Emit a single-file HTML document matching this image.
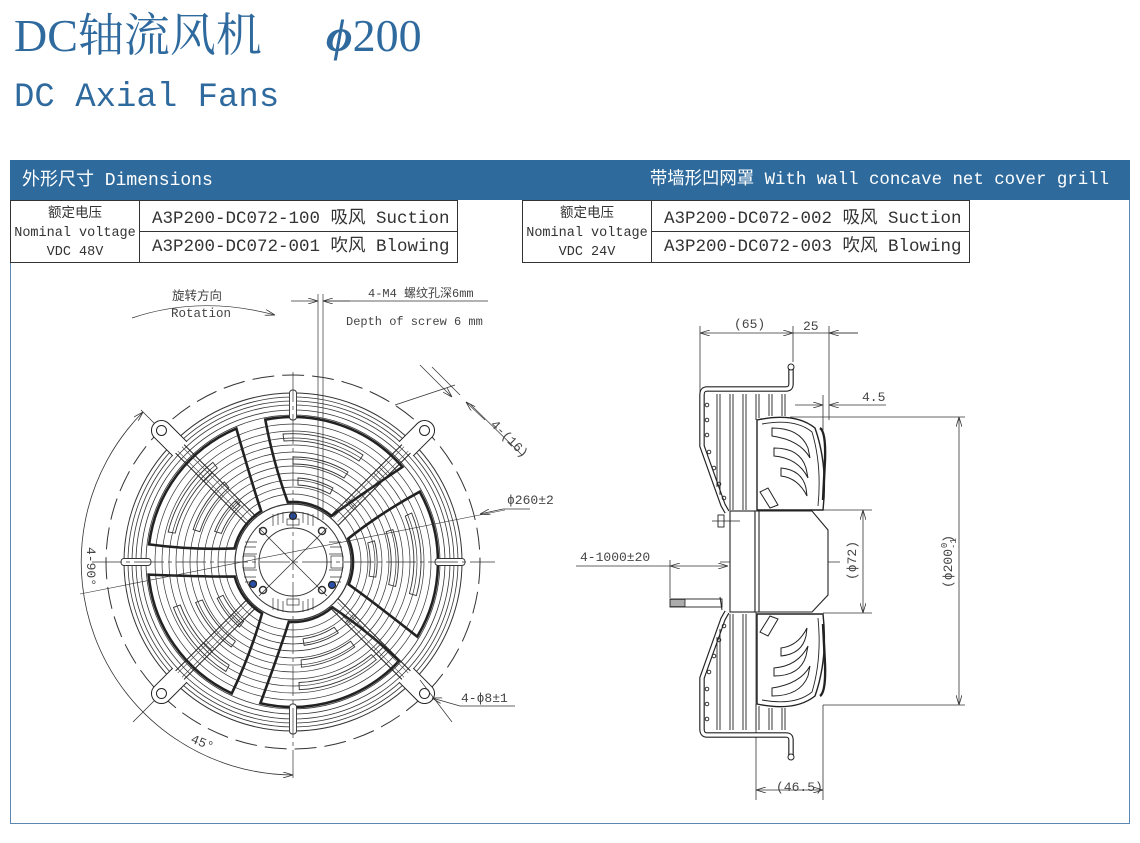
<!DOCTYPE html>
<html><head><meta charset="utf-8">
<style>
html,body{margin:0;padding:0;background:#fff;}
body{width:1140px;height:843px;position:relative;overflow:hidden;font-family:"Liberation Mono","Noto Sans CJK SC",monospace;}
.t1{position:absolute;left:14px;top:8px;font-family:"Liberation Serif","Noto Serif CJK SC",serif;font-size:46px;color:#2f6a9e;white-space:nowrap;line-height:56px;}
.t1b{position:absolute;left:326px;top:8px;font-family:"Liberation Serif",serif;font-size:46px;color:#2f6a9e;white-space:nowrap;line-height:56px;}
.t2{position:absolute;left:14px;top:76px;font-family:"Liberation Mono","Noto Sans CJK SC",monospace;font-size:34px;color:#2f6a9e;white-space:nowrap;line-height:44px;}
.panel{position:absolute;left:10px;top:160px;width:1120px;height:664px;border:1px solid #5b87b3;box-sizing:border-box;}
.hdr{position:absolute;left:10px;top:160px;width:1120px;height:40px;background:#2e6a9c;color:#fff;font-size:18px;line-height:42px;white-space:nowrap;}
.tbl{position:absolute;top:200px;height:63px;border:1px solid #333;box-sizing:border-box;background:#fff;}
.tbl .l{position:absolute;left:0;top:0;width:129px;height:61px;border-right:1px solid #333;text-align:center;font-size:13.5px;line-height:19px;color:#333;padding-top:4px;box-sizing:border-box;}
.tbl .r{position:absolute;left:129px;right:0;height:30px;font-size:17.5px;line-height:36px;padding-left:12px;color:#333;white-space:nowrap;}
</style></head><body>
<div class="t1">DC轴流风机</div>
<div class="t1b"><i style="font-weight:bold">ϕ</i>200</div>
<div class="t2">DC Axial Fans</div>
<div class="panel"></div>
<div class="hdr"><span style="position:absolute;left:12px;">外形尺寸 Dimensions</span><span style="position:absolute;right:21px;font-size:17.4px;">带墙形凹网罩 With wall concave net cover grill</span></div>
<div class="tbl" style="left:10px;width:448px;"><div class="l">额定电压<br>Nominal voltage<br>VDC 48V</div><div class="r" style="top:0;border-bottom:1px solid #333;">A3P200-DC072-100 吸风 Suction</div><div class="r" style="top:31px;line-height:30px;">A3P200-DC072-001 吹风 Blowing</div></div>
<div class="tbl" style="left:522px;width:448px;"><div class="l">额定电压<br>Nominal voltage<br>VDC 24V</div><div class="r" style="top:0;border-bottom:1px solid #333;">A3P200-DC072-002 吸风 Suction</div><div class="r" style="top:31px;line-height:30px;">A3P200-DC072-003 吹风 Blowing</div></div>

<svg width="1140" height="843" style="position:absolute;left:0;top:0" xmlns="http://www.w3.org/2000/svg">
<defs>
<marker id="ar" markerWidth="10" markerHeight="6" refX="10" refY="3" orient="auto-start-reverse" markerUnits="userSpaceOnUse"><path d="M0,0 L10,3 L0,6" fill="none" stroke="#333" stroke-width="0.8"/></marker>
<g id="blade">
<path d="M-27.7,-142.3 A145,145 0 0 1 109.4,-95.1 Q60,-62 38.6,-46 A60,60 0 0 0 -5.2,-59.8 Q-20,-100 -27.7,-142.3 Z" fill="none" stroke="#222" stroke-width="2.6"/>
<path d="M-10,-128 A128,128 0 0 1 70,-107 L66,-101 A121,121 0 0 0 -9,-121 Z" fill="none" stroke="#333" stroke-width="0.9"/>
<path d="M0,-105 A105,105 0 0 1 55,-90 L51,-84 A98,98 0 0 0 0,-98 Z" fill="none" stroke="#333" stroke-width="0.9"/>
<path d="M5,-84 A84,84 0 0 1 40,-74 L37,-68 A77,77 0 0 0 5,-77 Z" fill="none" stroke="#333" stroke-width="0.9"/>
</g>
<g id="arm">
<line x1="56" y1="-6" x2="186" y2="-6" stroke="#222" stroke-width="1"/>
<line x1="56" y1="6" x2="186" y2="6" stroke="#222" stroke-width="1"/>
<line x1="60" y1="-3" x2="186" y2="-3" stroke="#444" stroke-width="0.6"/>
<line x1="60" y1="3" x2="186" y2="3" stroke="#444" stroke-width="0.6"/>
<path d="M160,-10 L186,-10 A10,10 0 0 1 186,10 L160,10" fill="#fff" stroke="#222" stroke-width="1"/>
<circle cx="186" cy="0" r="5" fill="none" stroke="#222" stroke-width="1"/>
<line x1="120" y1="-6" x2="120" y2="6" stroke="#333" stroke-width="0.8"/><line x1="124" y1="-6" x2="124" y2="6" stroke="#333" stroke-width="0.8"/><line x1="128" y1="-6" x2="128" y2="6" stroke="#333" stroke-width="0.8"/>
<line x1="80" y1="-6" x2="80" y2="6" stroke="#333" stroke-width="0.8"/><line x1="84" y1="-6" x2="84" y2="6" stroke="#333" stroke-width="0.8"/>
</g>
<g id="tab"><rect x="142" y="-3.5" width="30" height="7" rx="3" fill="#fff" stroke="#333" stroke-width="0.9"/></g>
</defs>

<g transform="translate(293,562)" fill="none" stroke="#333">
<circle r="187" stroke-width="1" stroke-dasharray="22,8"/>
<path d="M-150,-150 A213,213 0 0 0 0,213" stroke-width="0.8" marker-start="url(#ar)" marker-end="url(#ar)"/>
<line x1="-152" y1="-152" x2="-131" y2="-131" stroke-width="0.8"/>
<line x1="-160" y1="160" x2="-131" y2="131" stroke-width="0.8"/>
<circle r="169" stroke-width="1"/><circle r="165" stroke-width="0.8"/><circle r="161" stroke-width="0.8"/><circle r="157" stroke-width="0.8"/><circle r="152" stroke-width="0.8"/><circle r="147" stroke-width="0.8"/>
<circle r="138" stroke-width="0.7"/><circle r="131" stroke-width="0.7"/><circle r="124" stroke-width="0.7"/><circle r="117" stroke-width="0.7"/><circle r="110" stroke-width="0.7"/><circle r="103" stroke-width="0.7"/><circle r="96" stroke-width="0.7"/><circle r="89" stroke-width="0.7"/><circle r="82" stroke-width="0.7"/><circle r="75" stroke-width="0.7"/><circle r="68" stroke-width="0.7"/>
<use href="#blade"/><use href="#blade" transform="rotate(72)"/><use href="#blade" transform="rotate(144)"/><use href="#blade" transform="rotate(216)"/><use href="#blade" transform="rotate(288)"/>
<use href="#arm" transform="rotate(45)"/><use href="#arm" transform="rotate(135)"/><use href="#arm" transform="rotate(225)"/><use href="#arm" transform="rotate(315)"/>
<use href="#tab"/><use href="#tab" transform="rotate(90)"/><use href="#tab" transform="rotate(180)"/><use href="#tab" transform="rotate(270)"/>
<circle r="58" fill="#fff" stroke-width="1.2"/><circle r="50" stroke-width="1"/><circle r="34" stroke-width="1"/>
<g stroke-width="0.7">
<path d="M-20,-48 V-36 M-15,-49 V-37 M-10,-50 V-39 M10,-50 V-39 M15,-49 V-37 M20,-48 V-36 M-20,48 V36 M-15,49 V37 M-10,50 V39 M10,50 V39 M15,49 V37 M20,48 V36 M-48,-20 H-36 M-49,-15 H-37 M-50,-8 H-36 M48,-20 H36 M49,-15 H37 M50,-8 H36 M-48,20 H-36 M-49,15 H-37 M-50,8 H-36 M48,20 H36 M49,15 H37 M50,8 H36"/>
<rect x="-6" y="-43" width="12" height="6"/><rect x="-6" y="37" width="12" height="6"/><rect x="-50" y="-6" width="12" height="12"/><rect x="38" y="-6" width="12" height="12"/>
</g>
<line x1="-34" y1="-34" x2="34" y2="34" stroke-width="0.8"/><line x1="-34" y1="34" x2="34" y2="-34" stroke-width="0.8"/>
<circle cx="-30" cy="-31" r="3.5" stroke-width="1.5"/><circle cx="29" cy="-31" r="3.5" stroke-width="1.5"/><circle cx="-30" cy="28" r="3.5" stroke-width="1.5"/><circle cx="29" cy="28" r="3.5" stroke-width="1.5"/>
<circle cx="0" cy="-46" r="3.5" fill="#2a4fa8" stroke="#222" stroke-width="1.2"/><circle cx="-40" cy="22" r="3.5" fill="#2a4fa8" stroke="#222" stroke-width="1.2"/><circle cx="39" cy="23" r="3.5" fill="#2a4fa8" stroke="#222" stroke-width="1.2"/>
<line x1="-201" y1="0" x2="202" y2="0" stroke-width="0.7" stroke-dasharray="30,4,4,4"/>
<line x1="0" y1="-190" x2="0" y2="216" stroke-width="0.7" stroke-dasharray="30,4,4,4"/>
<line x1="-213" y1="32" x2="212" y2="-52" stroke-width="0.6"/>
</g>
<g stroke="#333" fill="none" stroke-width="0.7">
<line x1="318" y1="294" x2="318" y2="520"/><line x1="323" y1="294" x2="323" y2="520"/>
<line x1="291" y1="301" x2="318" y2="301" marker-end="url(#ar)"/><line x1="350" y1="301" x2="323" y2="301" marker-end="url(#ar)"/>
<line x1="323" y1="301" x2="488" y2="301"/>
<path d="M132,318 Q200,295 275,315" marker-end="url(#ar)"/>
<line x1="432" y1="367" x2="460" y2="395"/><line x1="470" y1="404" x2="522" y2="455"/>
<line x1="395" y1="405" x2="455" y2="385"/>
<line x1="420" y1="365" x2="452" y2="397" marker-end="url(#ar)"/>
<line x1="485" y1="420" x2="466" y2="402" marker-end="url(#ar)"/>
<line x1="530" y1="509" x2="503" y2="509"/><line x1="503" y1="509" x2="480" y2="514" marker-end="url(#ar)"/>
<path d="M515,706 H460 L432,698" marker-end="url(#ar)"/>
<line x1="420" y1="680" x2="452" y2="722"/>
</g>
<g font-family="Liberation Mono, Noto Sans CJK SC, monospace" fill="#444" font-size="12.5">
<text x="172" y="300">旋转方向</text>
<text x="171" y="317">Rotation</text>
<text x="368" y="297" font-size="12">4-M4 螺纹孔深6mm</text>
<text x="346" y="325" font-size="12">Depth of screw 6 mm</text>
<text x="490" y="425" transform="rotate(45 490 425)" font-size="13">4-(16)</text>
<text x="507" y="504" font-size="13">ϕ260±2</text>
<text x="461" y="702" font-size="13">4-ϕ8±1</text>
<text x="87" y="547" transform="rotate(90 87 547)" font-size="13">4-90°</text>
<text x="190" y="742" transform="rotate(22 190 742)" font-size="13">45°</text>
</g>

<g fill="none" stroke="#333" stroke-width="0.8">
<line x1="700" y1="326" x2="700" y2="395"/><line x1="793" y1="326" x2="793" y2="362"/><line x1="829" y1="326" x2="829" y2="420"/>
<line x1="700" y1="333" x2="793" y2="333" marker-start="url(#ar)" marker-end="url(#ar)"/>
<line x1="793" y1="333" x2="858" y2="333"/><line x1="858" y1="333" x2="829" y2="333" marker-end="url(#ar)"/>
<line x1="823" y1="395" x2="823" y2="430"/>
<line x1="795" y1="405" x2="823" y2="405" marker-end="url(#ar)"/><line x1="886" y1="405" x2="829" y2="405" marker-end="url(#ar)"/>
<line x1="790" y1="417" x2="965" y2="417"/><line x1="823" y1="705" x2="965" y2="705"/>
<line x1="959" y1="417" x2="959" y2="705" marker-start="url(#ar)" marker-end="url(#ar)"/>
<line x1="823" y1="510" x2="872" y2="510"/><line x1="823" y1="613" x2="872" y2="613"/>
<line x1="863" y1="510" x2="863" y2="613" marker-start="url(#ar)" marker-end="url(#ar)"/>
<line x1="756" y1="612" x2="756" y2="800"/><line x1="823" y1="705" x2="823" y2="800"/>
<line x1="756" y1="790" x2="823" y2="790" marker-start="url(#ar)" marker-end="url(#ar)"/>
<line x1="576" y1="566" x2="670" y2="566"/><line x1="670" y1="566" x2="728" y2="566" marker-start="url(#ar)" marker-end="url(#ar)"/>
<line x1="670" y1="560" x2="670" y2="598"/>
<line x1="720" y1="562" x2="840" y2="562" stroke-dasharray="22,5,4,5"/>
</g>
<g id="half" fill="none" stroke="#222">
<path d="M791,366 V384 Q791,389 786,389 H707 Q702,389 702,395 V446 L723,505 L727,512" stroke-width="5.5"/>
<path d="M791,366 V384 Q791,389 786,389 H707 Q702,389 702,395 V446 L723,505 L727,512" stroke="#fff" stroke-width="3.2"/>
<circle cx="791" cy="367" r="3" fill="#fff" stroke-width="1"/>
<g stroke-width="0.9">
<path d="M717,394 V487 M720,394 V495 M730,394 V510 M733,394 V510 M743,394 V510 M746,394 V510 M756,394 V420 M759,394 V418 M769,394 V416 M772,394 V416 M782,394 V416 M785,394 V416"/>
<circle cx="707" cy="405" r="1.8"/><circle cx="707" cy="420" r="1.8"/><circle cx="707" cy="435" r="1.8"/><circle cx="709" cy="452" r="1.8"/><circle cx="714" cy="468" r="1.8"/><circle cx="719" cy="484" r="1.8"/><circle cx="724" cy="498" r="1.8"/>
</g>
<path d="M757,420 Q795,412 815,428 Q828,465 823,510 L757,510 Z" fill="#fff" stroke-width="1.4"/>
<path d="M762,424 Q795,418 812,432 Q822,465 818,506" stroke-width="0.9"/>
<path d="M772,428 Q800,428 808,448 L810,458 Q800,440 772,436 Z" stroke-width="1"/>
<path d="M774,448 Q800,448 806,468 L808,478 Q798,458 774,456 Z" stroke-width="1"/>
<path d="M781,468 Q802,470 806,488 L807,496 Q798,478 781,476 Z" stroke-width="1"/>
<path d="M760,492 L768,488 L778,505 L770,508 Z" stroke-width="1"/>
<path d="M820,428 Q826,432 825,460 L823,500" stroke-width="2.4"/>
</g>
<use href="#half" transform="translate(0,1124) scale(1,-1)"/>
<g fill="#fff" stroke="#222" stroke-width="1.1">
<rect x="730" y="511" width="25" height="101"/>
<path d="M755,511 H812 L828,530 V595 L812,612 H755 Z"/>
<line x1="759" y1="511" x2="759" y2="612"/>
<rect x="718" y="515" width="6" height="12" stroke-width="0.9"/>
<line x1="712" y1="521" x2="740" y2="521" stroke-width="0.7"/>
</g>
<g stroke="#222" fill="none">
<rect x="670" y="599" width="52" height="8" fill="#fff" stroke-width="0.9"/>
<path d="M670,600 H685 M670,602 H685 M670,604 H685 M670,606 H685" stroke-width="0.8"/>
<line x1="685" y1="599" x2="685" y2="607" stroke-width="0.8"/>
<line x1="720" y1="597" x2="722" y2="610" stroke-width="1"/>
</g>
<g font-family="Liberation Mono, Noto Sans CJK SC, monospace" fill="#444" font-size="13">
<text x="734" y="328">(65)</text>
<text x="803" y="330">25</text>
<text x="862" y="401">4.5</text>
<text x="580" y="561">4-1000±20</text>
<text x="776" y="791">(46.5)</text>
<text x="856" y="580" transform="rotate(-90 856 580)">(ϕ72)</text>
<text x="952" y="588" transform="rotate(-90 952 588)">(ϕ200<tspan font-size="9" dy="4">-1</tspan><tspan font-size="9" dx="-10" dy="-9">0</tspan><tspan dy="5">)</tspan></text>
</g>
</svg>
</body></html>
